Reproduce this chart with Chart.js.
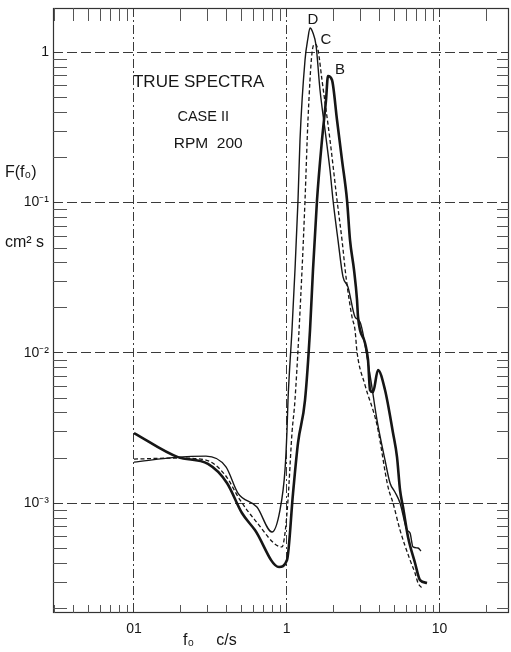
<!DOCTYPE html>
<html>
<head>
<meta charset="utf-8">
<script src="https://cdn.jsdelivr.net/npm/chart.js@4.4.1/dist/chart.umd.min.js"></script>
<style>
  html, body { margin: 0; background: #fff; }
</style>
</head>
<body>
<canvas id="spectra" width="511" height="652"></canvas>
<script>
// ─── Data ─────────────────────────────────────────────────────────────────────
// Curve B : thick solid
const freqB = [0.100, 0.194, 0.305, 0.406, 0.509, 0.619, 0.890, 1.004, 1.099, 1.185, 1.317, 1.420, 1.485,
  1.578, 1.701, 1.807, 1.862, 1.978, 2.133, 2.300, 2.480, 2.595, 2.756, 2.884, 2.928, 3.253, 3.404, 3.508,
  3.670, 3.957, 4.398, 4.962, 5.270, 5.514, 5.768, 6.221, 6.913, 7.454, 8.284];
const specB = [0.00292, 0.00202, 0.00182, 0.00136, 0.000858, 0.000661, 0.000375, 0.000418, 0.00116, 0.00251,
  0.00484, 0.01415, 0.0355, 0.1036, 0.260, 0.479, 0.692, 0.651, 0.353, 0.191, 0.1036, 0.0561, 0.0355, 0.0224,
  0.01727, 0.01159, 0.00894, 0.00564, 0.00547, 0.00767, 0.00564, 0.00292, 0.00202, 0.00122, 0.000940,
  0.000594, 0.000399, 0.000307, 0.000294];

// Curve C : dashed
const freqC = [0.100, 0.194, 0.296, 0.394, 0.494, 0.619, 0.931, 0.974, 1.019, 1.082, 1.132, 1.259, 1.317,
  1.377, 1.463, 1.531, 1.602, 1.701, 1.919, 2.133, 2.300, 2.443, 2.674, 2.798, 2.884, 3.253, 3.898, 4.601,
  4.962, 5.514, 6.411, 6.913, 7.232, 7.681];
const specC = [0.00196, 0.00199, 0.00193, 0.00154, 0.00105, 0.000770, 0.000510, 0.000631, 0.00105, 0.00292,
  0.00484, 0.0355, 0.1036, 0.353, 0.985, 1.130, 1.031, 0.651, 0.260, 0.1036, 0.0561, 0.0319, 0.01727,
  0.01415, 0.01010, 0.00609, 0.00330, 0.00128, 0.00100, 0.000661, 0.000418, 0.000342, 0.000294, 0.000272];

// Curve D : thin solid
const freqD = [0.100, 0.194, 0.296, 0.400, 0.480, 0.638, 0.800, 0.903, 0.974, 1.004, 1.019, 1.082, 1.132,
  1.185, 1.221, 1.317, 1.377, 1.420, 1.485, 1.554, 1.651, 1.780, 1.919, 2.008, 2.165, 2.335, 2.518, 2.798,
  3.017, 3.508, 3.898, 4.398, 4.742, 5.114, 5.514, 6.128, 6.411, 6.707, 7.232, 7.566];
const specD = [0.00187, 0.00202, 0.00205, 0.00174, 0.00116, 0.000940, 0.000641, 0.000898, 0.00166, 0.00306,
  0.00484, 0.01415, 0.0355, 0.1036, 0.260, 0.885, 1.239, 1.444, 1.338, 1.113, 0.559, 0.303, 0.164, 0.1036,
  0.0561, 0.0319, 0.0273, 0.01727, 0.01600, 0.00710, 0.00356, 0.00193, 0.00136, 0.00118, 0.00100, 0.000661,
  0.000631, 0.000510, 0.000502, 0.000479];

// Axis ranges and decade labels (keyed by exponent)
const xRange = [0.0295, 28.5];
const yRange = [0.0001855, 1.962];
const xTickLabels = { '-1': '01', '0': '1', '1': '10' };
const yTickLabels = { '0': '1', '-1': '10\u207B\u00B9', '-2': '10\u207B\u00B2', '-3': '10\u207B\u00B3' };
const minorSteps = [2, 3, 4, 5, 6, 7, 8, 9];

// Curve tags placed in data space
const curveTags = [
  { text: 'D', f: 1.485, v: 1.633 },
  { text: 'C', f: 1.807, v: 1.202 },
  { text: 'B', f: 2.231, v: 0.759 },
];
const titleLines = [
  { text: 'TRUE SPECTRA', f: 0.0985, v: 0.632, size: 17, align: 'left' },
  { text: 'CASE II',      f: 0.284,  v: 0.369, size: 14.5, align: 'center' },
  { text: 'RPM  200',     f: 0.306,  v: 0.244, size: 15.5, align: 'center' },
];

const INK = '#161616';
const FONT = '"Liberation Sans", Arial, sans-serif';

function decade(v) {
  const l = Math.log10(v);
  const r = Math.round(l);
  return Math.abs(l - r) < 1e-6 ? r : null;
}

const toPoints = (fs, vs) => fs.map((f, i) => ({ x: f, y: vs[i] }));

// null (not '') so unlabeled ticks take no room in the layout
const decadeLabel = table => v => {
  const d = decade(v);
  return d !== null && table[d] ? table[d] : null;
};

// minor values 2..9 x 10^n inside a scale's range
function minorValues(scale) {
  const out = [];
  for (let e = Math.floor(Math.log10(scale.min)); e <= Math.ceil(Math.log10(scale.max)); e++) {
    minorSteps.forEach(k => {
      const v = k * Math.pow(10, e);
      if (v > scale.min && v < scale.max) out.push(v);
    });
  }
  return out;
}

// ─── Frame, inward minor ticks and text ───────────────────────────────────────
const paperPlugin = {
  id: 'paper',
  afterDraw(chart) {
    const { ctx, chartArea: a, scales: { x, y } } = chart;
    ctx.save();
    ctx.strokeStyle = '#333';
    ctx.lineWidth = 1.2;
    ctx.strokeRect(a.left + 0.5, a.top + 0.5, a.width - 1, a.height - 1);

    ctx.lineWidth = 1;
    ctx.strokeStyle = '#555';
    minorValues(x).forEach(v => {
      const px = Math.round(x.getPixelForValue(v)) + 0.5;
      ctx.beginPath();
      ctx.moveTo(px, a.top); ctx.lineTo(px, a.top + 13);
      ctx.moveTo(px, a.bottom); ctx.lineTo(px, a.bottom - 8);
      ctx.stroke();
    });
    minorValues(y).forEach(v => {
      const py = Math.round(y.getPixelForValue(v)) + 0.5;
      ctx.beginPath();
      ctx.moveTo(a.left, py); ctx.lineTo(a.left + 14, py);
      ctx.moveTo(a.right, py); ctx.lineTo(a.right - 12, py);
      ctx.stroke();
    });

    ctx.fillStyle = INK;
    ctx.textBaseline = 'middle';
    ctx.font = `15px ${FONT}`;
    ctx.textAlign = 'center';
    curveTags.forEach(c => ctx.fillText(c.text, x.getPixelForValue(c.f), y.getPixelForValue(c.v)));
    titleLines.forEach(l => {
      ctx.font = `${l.size}px ${FONT}`;
      ctx.textAlign = l.align;
      ctx.fillText(l.text, x.getPixelForValue(l.f), y.getPixelForValue(l.v));
    });

    // axis titles
    ctx.font = `16px ${FONT}`;
    ctx.textAlign = 'left';
    ctx.fillText('F(f\u2080)', 5, 173);
    ctx.fillText('cm\u00B2 s', 5, 243);
    ctx.fillText('f\u2080     c/s', 183, 641);
    ctx.restore();
  }
};

// ─── Chart ────────────────────────────────────────────────────────────────────
const gridColor = ctx => (decade(ctx.tick.value) !== null ? '#3a3a3a' : 'rgba(0,0,0,0)');

new Chart(document.getElementById('spectra'), {
  type: 'line',
  data: {
    datasets: [
      { label: 'B', data: toPoints(freqB, specB), borderColor: INK, borderWidth: 2.6 },
      { label: 'C', data: toPoints(freqC, specC), borderColor: INK, borderWidth: 1.3, borderDash: [4, 2.5] },
      { label: 'D', data: toPoints(freqD, specD), borderColor: INK, borderWidth: 1.4 },
    ]
  },
  options: {
    responsive: false,
    animation: false,
    layout: { padding: { top: 8, right: 2, left: 0, bottom: 0 } },
    elements: {
      point: { radius: 0 },
      line: { cubicInterpolationMode: 'monotone', fill: false }
    },
    plugins: { legend: { display: false }, tooltip: { enabled: false } },
    scales: {
      x: {
        type: 'logarithmic',
        min: xRange[0], max: xRange[1],
        afterFit: s => { s.height = 39; s.paddingLeft = 0; s.paddingRight = 0; },
        grid: { color: gridColor, lineWidth: 1, drawTicks: false },
        border: { display: false, dash: [9, 3, 2, 3] },
        ticks: {
          autoSkip: false, maxRotation: 0, padding: 8, color: INK,
          font: { family: FONT, size: 14 },
          callback: decadeLabel(xTickLabels)
        }
      },
      y: {
        type: 'logarithmic',
        min: yRange[0], max: yRange[1],
        afterFit: s => { s.width = 53; s.paddingTop = 0; s.paddingBottom = 0; },
        grid: { color: gridColor, lineWidth: 1, drawTicks: false },
        border: { display: false, dash: [10, 4] },
        ticks: {
          autoSkip: false, padding: 4, color: INK,
          font: { family: FONT, size: 14 },
          callback: decadeLabel(yTickLabels)
        }
      }
    }
  },
  plugins: [paperPlugin]
});
</script>
</body>
</html>
